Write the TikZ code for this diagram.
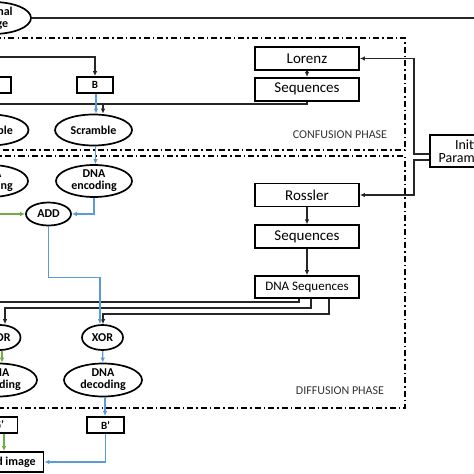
\documentclass[tikz,border=0pt]{standalone}
\usepackage{fontspec}
\setmainfont{Carlito}
\usetikzlibrary{shapes.geometric,arrows.meta,positioning}
\definecolor{flowblue}{RGB}{91,155,213}
\definecolor{flowgreen}{RGB}{112,173,71}
\tikzset{
  proc/.style={draw, line width=1.8pt, minimum width=104pt, minimum height=23pt, inner sep=0pt, font=\fontsize{15}{15}\selectfont},
  chan/.style={draw, line width=1.8pt, minimum width=36pt, minimum height=16pt, inner sep=0pt, font=\bfseries\fontsize{11}{11}\selectfont},
  op/.style={ellipse, draw, line width=1.7pt, inner xsep=0pt, inner ysep=-3pt, align=center, font=\bfseries\fontsize{12}{12}\selectfont},
  phase/.style={line width=1.5pt, dash pattern=on 6pt off 3pt on 1.5pt off 3pt},
  phlabel/.style={text=black!80, font=\fontsize{12}{12}\selectfont},
  wire/.style={line width=1.3pt, black!85},
  flow/.style={line width=1.3pt, flowblue},
  gflow/.style={line width=1.3pt, flowgreen},
}
\begin{document}
\begin{tikzpicture}[x=1pt, y=-1pt, >={Latex[length=5pt,width=4.5pt]}]
      \path[use as bounding box, clip] (0,0) rectangle (474,474);
      % Define nodes
      \draw[phase] (-20,38) rectangle (405,150);
      \draw[phase] (-20,156) rectangle (405,408);
      \node[phlabel] (conflbl) at (340,135) {CONFUSION PHASE};
      \node[phlabel] (difflbl) at (340,391) {DIFFUSION PHASE};
      \node[op, minimum width=76pt, minimum height=32pt] (orig) at (-7,18) {Original\\image};
      \node[chan] (chG) at (-7,85) {G};
      \node[chan] (chB) at (95,85) {B};
      \node[op, minimum width=77pt, minimum height=31pt] (scrG) at (-10,130) {Scramble};
      \node[op, minimum width=77pt, minimum height=31pt] (scrB) at (93.5,130) {Scramble};
      \node[op, minimum width=76pt, minimum height=32pt] (encG) at (-10,181) {DNA\\encoding};
      \node[op, minimum width=76pt, minimum height=32pt] (encB) at (94,181) {DNA\\encoding};
      \node[op, minimum width=45pt, minimum height=23pt] (add) at (48.5,214) {ADD};
      \node[op, minimum width=41pt, minimum height=25pt] (xorG) at (0,337.5) {XOR};
      \node[op, minimum width=41pt, minimum height=25pt] (xorB) at (102.5,337.5) {XOR};
      \node[op, minimum width=78pt, minimum height=33pt] (decG) at (-2,380) {DNA\\decoding};
      \node[op, minimum width=78pt, minimum height=33pt] (decB) at (103,380) {DNA\\decoding};
      \node[chan, minimum width=37pt] (bG) at (-1,425) {G’};
      \node[chan, minimum width=37pt] (bB) at (105.5,425) {B’};
      \node[chan, minimum width=100pt, minimum height=20pt, font=\bfseries\fontsize{12}{12}\selectfont] (dec) at (-6.5,462) {Decrypted image};
      \node[proc] (lorenz) at (307,58.5) {Lorenz};
      \node[proc, below=6pt of lorenz] (seqC) {Sequences};
      \node[proc] (rossler) at (307,195) {Rossler};
      \node[proc, below=17pt of rossler] (seqD) {Sequences};
      \node[proc, below=26pt of seqD, minimum height=22pt, font=\fontsize{13}{13}\selectfont] (dnaseq) {DNA Sequences};
      \node[proc, minimum width=82pt, minimum height=32pt, align=center, font=\fontsize{14}{13}\selectfont] (init) at (471,151) {Initial\\Parameters};
      \coordinate (rgt) at (490,18);
      \coordinate (splitL) at (-30,57);
      \coordinate (splitS) at (-30,104);
      \coordinate (tapS) at (103,104);
      \coordinate (offA) at (-30,214);
      \coordinate (offG) at (-40,276);
      \coordinate (offD) at (-30,302);
      \coordinate (kG) at (5,308);
      \coordinate (kB) at (103,314);
      % Connect nodes
      \draw[wire] (orig.east) -- (rgt);
      \draw[wire, ->] (splitL) -| (chB.north);
      \draw[wire] (seqC.south) |- (splitS);
      \draw[wire, ->] (tapS) -- (tapS |- scrB.north);
      \draw[wire, ->] (lorenz) -- (seqC);
      \draw[wire, ->] ([yshift=-3pt]init.west) -- ++(-15,0) |- (lorenz.east);
      \draw[wire, ->] ([yshift=-9pt]init.west) -- ++(-15,0) |- (rossler.east);
      \draw[wire, ->] (rossler) -- (seqD);
      \draw[wire, ->] (seqD) -- (dnaseq);
      \draw[wire] ([xshift=-8pt]dnaseq.south) |- (offD);
      \draw[wire, ->] ([xshift=4pt]dnaseq.south) |- (kG) -- (kG |- xorG.north);
      \draw[wire, ->] ([xshift=22pt]dnaseq.south) |- (kB) -- (kB |- xorB.north);
      \draw[flow, ->] ([xshift=1pt]chB.south) -- ([xshift=1pt]chB.south |- scrB.north);
      \draw[flow, ->] ([xshift=2pt]scrB.south) -- ([xshift=2pt]scrB.south |- encB.north);
      \draw[flow, ->] (encB.south) |- (add.east);
      \draw[gflow, ->] (offA) -- (add.west);
      \draw[flow, ->] (add.south) -- ++(0,51) -| ([xshift=-2.5pt]xorB.north);
      \draw[gflow, ->] (offG) -| ([xshift=-2pt]xorG.north);
      \draw[gflow, ->] ([xshift=2pt]xorG.south) -- ([xshift=2pt]xorG.south |- decG.north);
      \draw[flow, ->] (xorB) -- (decB);
      \draw[flow, ->] ([xshift=2pt]decB.south) -- ([xshift=2pt]decB.south |- bB.north);
      \draw[flow, ->] (bB.south) |- (dec.east);
      \draw[gflow, ->] ([xshift=5pt]bG.south) -- ([xshift=5pt]bG.south |- dec.north);
\end{tikzpicture}
\end{document}
